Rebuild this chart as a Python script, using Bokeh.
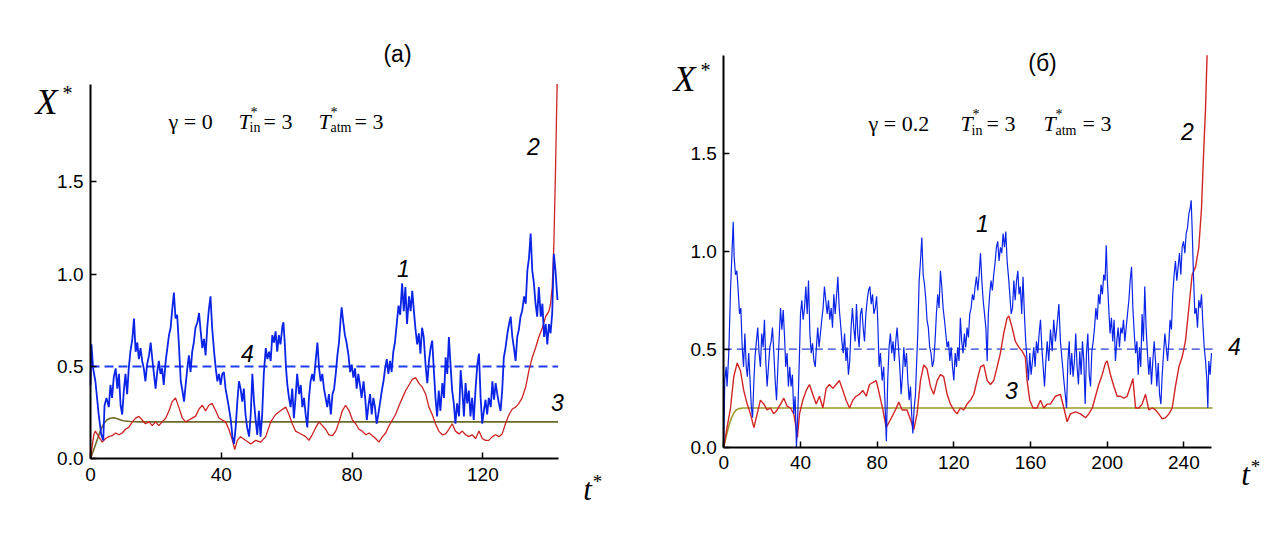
from bokeh.plotting import figure
from bokeh.layouts import row
from bokeh.models import Range1d, Label, FixedTicker, PrintfTickFormatter
from bokeh.embed import file_html
from bokeh.resources import INLINE

# ---------------- panel (a) data ----------------
a_t1 = [0.0, 0.3, 0.8, 1.5, 2.5, 3.3, 3.9, 4.3, 4.9, 5.6, 6.1, 6.6, 7.1, 7.7, 8.2, 8.7, 9.2, 9.7, 10.2, 10.7,
        11.2, 11.7, 12.2, 12.8, 13.3, 13.8, 14.3, 14.8, 15.3, 15.8, 16.3, 16.8, 17.3, 17.9, 18.4, 18.9, 19.4, 19.9,
        20.4, 20.9, 21.4, 21.9, 22.4, 23.0, 23.5, 24.0, 24.5, 25.0, 25.5, 26.0, 26.5, 27.0, 27.6, 28.1, 28.6, 29.1,
        29.6, 30.1, 30.6, 31.1, 31.6, 32.1, 32.7, 33.2, 33.7, 34.2, 34.7, 35.2, 35.7, 36.2, 36.7, 37.2, 37.8, 38.3,
        38.8, 39.3, 39.8, 40.3, 40.8, 41.3, 41.8, 42.3, 42.9, 43.4, 43.9, 44.4, 44.9, 45.4, 45.9,
        46.4, 46.9, 47.4, 47.9, 48.5, 49.0, 49.5, 50.0, 50.5, 51.0, 51.5, 52.0, 52.5, 53.0, 53.6, 54.1, 54.6, 55.1,
        55.6, 56.1, 56.6, 57.1, 57.6, 58.1, 58.7, 59.0, 59.4, 59.8, 60.2, 60.7, 61.2, 61.7, 62.2, 62.7, 63.2, 63.8,
        64.3, 64.8, 65.3, 65.8, 66.3, 66.8, 67.3, 67.8, 68.3, 68.9, 69.4, 69.9, 70.4, 70.9, 71.4, 71.9, 72.4, 72.9,
        73.5, 74.0, 74.5, 75.0, 75.5, 76.0, 76.5, 76.8, 77.3, 77.8, 78.3, 78.9, 79.4, 79.9, 80.4, 80.9, 81.4, 81.9,
        82.4, 82.9, 83.5, 84.0, 84.5, 85.0, 85.5, 86.0, 86.5, 87.0, 87.5, 88.0, 88.6, 89.1, 89.6, 90.1, 90.6, 91.1,
        91.6, 92.1, 92.6, 93.1, 93.7, 94.2, 94.7,
        95.3, 95.8, 96.3, 96.8, 97.4, 97.9, 98.4, 98.9, 99.4, 99.9, 100.4, 100.9, 101.4, 101.9, 102.5, 103.0, 103.5,
        104.0, 104.5, 105.0, 105.5, 106.0, 106.5, 107.0, 107.6, 108.1, 108.6, 109.1, 109.6, 110.1, 110.6, 111.1,
        111.6, 112.1, 112.7, 113.2, 113.7, 114.2, 114.7, 115.2, 115.7, 116.2, 116.7, 117.2, 117.8, 118.3, 118.8,
        119.3, 119.8, 120.3, 120.8, 121.3, 121.8, 122.4, 122.9, 123.4, 123.9, 124.4, 124.9, 125.4, 125.9, 126.4,
        126.9, 127.5, 128.0, 128.5, 129.0, 129.5, 130.0, 130.5, 131.0, 131.5, 132.0, 132.6, 133.1, 133.6, 134.1,
        134.6, 135.1, 135.6, 136.1, 136.6, 137.1, 137.7, 138.2, 138.7, 139.2, 139.7, 140.2, 140.7, 141.2, 141.7,
        142.2, 142.8]
a_x1 = [0.40, 0.62, 0.49, 0.42, 0.24, 0.13, 0.10, 0.29, 0.33, 0.28, 0.40, 0.33, 0.44, 0.49, 0.38, 0.46, 0.29, 0.24, 0.37, 0.46,
        0.35, 0.49, 0.58, 0.65, 0.76, 0.58, 0.63, 0.54, 0.60, 0.53, 0.49, 0.42, 0.51, 0.56, 0.63, 0.54, 0.46, 0.38,
        0.47, 0.53, 0.46, 0.49, 0.40, 0.53, 0.60, 0.67, 0.71, 0.81, 0.90, 0.76, 0.78, 0.63, 0.42, 0.37, 0.31, 0.40,
        0.49, 0.56, 0.47, 0.58, 0.63, 0.71, 0.74, 0.79, 0.69, 0.60, 0.65, 0.56, 0.71, 0.81, 0.88, 0.71, 0.58, 0.49,
        0.42, 0.46, 0.40, 0.46, 0.47, 0.38, 0.33, 0.28, 0.21, 0.12, 0.08, 0.17, 0.31, 0.42, 0.38,
        0.31, 0.38, 0.24, 0.17, 0.12, 0.24, 0.46, 0.31, 0.21, 0.13, 0.26, 0.12, 0.24, 0.46, 0.60, 0.54, 0.58, 0.53,
        0.67, 0.63, 0.69, 0.58, 0.67, 0.62, 0.72, 0.74, 0.63, 0.49, 0.40, 0.33, 0.28, 0.38, 0.22, 0.33, 0.46, 0.35,
        0.40, 0.28, 0.33, 0.24, 0.17, 0.33, 0.42, 0.46, 0.42, 0.54, 0.63, 0.49, 0.42, 0.46, 0.38, 0.33, 0.28, 0.35,
        0.24, 0.35, 0.38, 0.46, 0.56, 0.63, 0.76, 0.82, 0.74, 0.67, 0.63, 0.56, 0.47, 0.51, 0.44, 0.49, 0.38, 0.46,
        0.40, 0.33, 0.42, 0.33, 0.21, 0.29, 0.35, 0.24, 0.33, 0.28, 0.19, 0.24, 0.31, 0.37, 0.42, 0.49, 0.54, 0.46,
        0.53, 0.47, 0.58, 0.63, 0.74, 0.83, 0.78,
        0.95, 0.80, 0.93, 0.73, 0.88, 0.80, 0.91, 0.80, 0.70, 0.62, 0.68, 0.57, 0.71, 0.66, 0.50, 0.41, 0.53,
        0.60, 0.64, 0.48, 0.33, 0.23, 0.37, 0.26, 0.41, 0.33, 0.55, 0.46, 0.66, 0.51, 0.37, 0.30,
        0.19, 0.30, 0.23, 0.48, 0.37, 0.23, 0.41, 0.30, 0.37, 0.23, 0.33, 0.21, 0.39, 0.51, 0.57,
        0.33, 0.19, 0.26, 0.32, 0.24, 0.33, 0.28, 0.42, 0.32, 0.41, 0.35, 0.30, 0.26, 0.37, 0.55,
        0.60, 0.68, 0.73, 0.77, 0.66, 0.60, 0.53, 0.66, 0.70, 0.77, 0.80, 0.88, 0.84, 1.02, 1.09,
        1.22, 1.02, 0.95, 0.84, 0.77, 0.93, 0.77, 0.84, 0.66, 0.73, 0.62, 0.73, 0.68, 0.79, 1.11,
        1.02, 0.86]

a_t2 = [0.0, 1.0, 1.5, 2.5, 3.6, 4.6, 5.6, 6.6, 7.7, 8.7, 9.7, 10.7, 11.7, 12.8, 13.8, 14.8, 15.8, 16.8, 17.9, 18.9,
        19.9, 20.9, 21.9, 23.0, 24.0, 25.0, 26.0, 27.0, 28.1, 29.1, 30.1, 31.1, 32.1, 33.2, 34.2, 35.2, 36.2, 37.2,
        38.3, 39.3, 40.3, 41.3, 42.3, 43.4, 44.1, 44.9, 45.9, 47.4, 49.0, 50.5, 52.0, 53.6, 55.1, 56.6, 58.1, 59.7,
        60.7, 61.7, 62.7, 63.8, 64.8, 65.8, 66.8, 67.8, 68.9, 69.9, 70.9, 71.9, 72.9, 74.0, 75.0, 76.0, 77.0, 78.0,
        79.1, 80.1, 81.1, 82.1, 83.1, 84.2, 85.2, 86.2, 87.2, 88.2, 89.3, 90.3, 91.3, 92.3, 93.3, 94.4, 95.4, 96.4,
        97.4, 98.4, 99.4, 100.4, 101.4, 102.5, 103.5, 104.5, 105.5, 106.5, 107.6, 108.6, 109.6, 110.6, 111.6, 112.7,
        113.7, 114.7, 115.7, 116.7, 117.8, 118.8, 119.8, 120.8, 121.8, 122.9, 123.9, 124.9, 125.9, 126.9, 128.0,
        129.0, 130.0, 131.0, 132.0, 133.1, 134.1, 135.1, 136.1, 137.1, 138.2, 139.2, 140.2, 140.7, 141.2, 141.7,
        142.2, 142.7]
a_x2 = [0.0, 0.13, 0.15, 0.12, 0.09, 0.11, 0.12, 0.125, 0.14, 0.13, 0.14, 0.16, 0.17, 0.20, 0.22, 0.23, 0.21, 0.19, 0.20, 0.18,
        0.20, 0.18, 0.20, 0.22, 0.26, 0.31, 0.33, 0.28, 0.22, 0.20, 0.21, 0.22, 0.23, 0.27, 0.29, 0.26, 0.29, 0.30,
        0.26, 0.22, 0.21, 0.20, 0.16, 0.10, 0.05, 0.10, 0.12, 0.10, 0.08, 0.10, 0.09, 0.12, 0.20, 0.24, 0.26, 0.28,
        0.24, 0.19, 0.15, 0.14, 0.13, 0.12, 0.10, 0.13, 0.17, 0.20, 0.18, 0.16, 0.13, 0.125, 0.15, 0.20, 0.26, 0.29,
        0.26, 0.21, 0.19, 0.16, 0.15, 0.13, 0.14, 0.125, 0.11, 0.09, 0.12, 0.14, 0.18, 0.21, 0.24, 0.29, 0.33, 0.37,
        0.40, 0.43, 0.44, 0.41, 0.39, 0.35, 0.28, 0.24, 0.19, 0.15, 0.13, 0.135, 0.16, 0.19, 0.15, 0.135,
        0.15, 0.13, 0.12, 0.13, 0.11, 0.15, 0.11, 0.10, 0.10, 0.12, 0.13, 0.12, 0.135, 0.19, 0.24,
        0.27, 0.28, 0.30, 0.33, 0.39, 0.48, 0.55, 0.60, 0.66, 0.71, 0.77, 0.80, 0.84, 0.93, 1.16,
        1.56, 2.03]

a_t3 = [0, 1, 2, 3, 4, 5, 6, 7, 8, 9, 10, 12, 15, 143]
a_x3 = [0.0, 0.05, 0.10, 0.15, 0.19, 0.21, 0.22, 0.222, 0.218, 0.212, 0.206, 0.202, 0.20, 0.20]

a_t4 = [0, 143]
a_x4 = [0.5, 0.5]

a_xticks = [0, 40, 80, 120]
yticks = [0.0, 0.5, 1.0, 1.5]

# ---------------- panel (б) data ----------------
b_t1 = [0.0, 0.5, 1.2, 1.7, 2.6, 3.5, 4.3, 4.9, 5.4, 6.1, 6.8, 7.5, 8.2, 8.9, 9.6, 10.3, 11.0, 11.7, 12.3, 13.0,
        13.7, 14.4, 15.0, 15.7, 16.3, 17.0, 17.7, 18.4, 19.1, 19.8, 20.5, 21.2, 21.9, 22.6, 23.3, 24.0, 24.7, 25.4,
        26.1, 26.8, 27.5, 28.2, 28.9, 29.6, 30.3, 31.0, 31.7, 32.3, 33.0, 33.7, 34.4, 35.1, 35.8, 36.5, 37.2, 37.9,
        38.6, 39.3, 40.0, 40.7, 41.4, 42.1, 42.8, 43.5, 44.2, 44.9, 45.6, 46.3, 47.0, 47.7, 48.3, 49.0, 49.7, 50.4,
        51.1, 51.8, 52.5, 53.2, 53.9, 54.6, 55.3, 56.0, 56.7, 57.4, 58.1, 58.8, 59.5, 60.2, 60.9, 61.6, 62.3, 63.0,
        63.7, 64.3, 65.0, 65.7, 66.4, 67.1, 67.8, 68.5, 69.2, 69.9, 70.6, 71.3, 72.0, 72.7, 73.4, 74.1, 74.8, 75.5,
        76.2, 76.9, 77.6, 78.3, 79.0, 79.7, 80.3, 81.0, 81.7, 82.6, 83.4, 84.3, 84.8, 85.5, 86.2, 86.9, 87.6, 88.3,
        89.0, 89.7, 90.4, 91.1, 91.8, 92.5, 93.2, 93.9, 94.6, 95.3, 96.0, 96.7, 97.4, 98.0, 98.6, 99.3, 100.0,
        100.5, 101.2, 101.9, 102.6, 103.3, 104.0, 104.7, 105.4, 106.0, 106.7, 107.4, 108.1, 108.8, 109.5, 110.2,
        110.9, 111.6, 112.3, 113.0, 113.7, 114.4, 115.1, 115.8, 116.5, 117.2, 117.9, 118.6, 119.3, 120.0, 120.7,
        121.4, 122.0, 122.7, 123.4, 124.1, 124.8, 125.5, 126.2, 126.9, 127.6, 128.3, 129.0, 129.7, 130.4, 131.1,
        131.8, 132.5, 133.2, 133.9, 134.6, 135.3, 136.0, 136.7, 137.4, 138.0, 138.7, 139.4, 140.1, 140.8, 141.5,
        142.2, 142.9, 143.6, 144.3, 145.0, 145.7, 146.4, 147.1, 147.8, 148.5, 149.2, 149.9, 150.6, 151.3, 152.0,
        152.7, 153.4, 154.0, 154.7, 155.4, 156.1, 156.8, 157.5, 158.2, 158.9, 159.6, 160.3, 161.0, 161.7, 162.4,
        163.1, 163.8, 164.5, 165.2, 165.9, 166.6, 167.3, 168.0, 168.7, 169.5, 170.4, 171.3, 172.1, 173.0, 173.9,
        174.8, 175.6, 176.5, 177.4, 178.2, 178.8, 179.5, 180.2, 180.8, 181.5, 182.2, 182.9, 183.6, 184.3, 185.0,
        185.7, 186.4, 187.1, 187.8, 188.5, 189.2, 189.9, 190.6, 191.3, 192.0, 192.7, 193.4, 194.1, 194.8, 195.5,
        196.2, 196.8, 197.5, 198.2, 198.9, 199.5, 200.1, 200.8, 201.5, 202.2, 202.9, 203.6, 204.3, 205.0, 205.7,
        206.4, 207.1, 207.8, 208.5, 209.2, 209.9, 210.6, 211.3, 212.0, 212.7, 213.4, 214.1, 214.8, 215.5, 216.2,
        216.8, 217.5, 218.2, 218.9, 219.6, 220.3, 221.0, 221.7, 222.4, 223.1, 223.8, 224.5, 225.2, 225.9, 226.6,
        227.3, 228.0, 228.7, 229.4, 230.1, 230.8, 231.5, 232.2, 232.8, 233.5, 234.2, 234.9, 235.6, 236.3, 237.0,
        237.7, 238.4, 239.1, 239.8, 240.5, 241.2, 241.9, 242.6, 243.3, 243.8, 244.3, 245.0, 245.7, 246.4, 247.1,
        247.8, 248.5, 249.2, 249.9, 250.6, 251.3, 252.0, 252.5, 253.0, 253.7, 254.4]
b_x1 = [0.02, 0.34, 0.41, 0.31, 0.48, 0.80, 1.00, 1.15, 0.97, 0.88, 0.90, 0.80, 0.68, 0.71, 0.51, 0.41, 0.58, 0.41, 0.36, 0.48,
        0.34, 0.20, 0.15, 0.34, 0.46, 0.54, 0.61, 0.48, 0.41, 0.58, 0.51, 0.65, 0.44, 0.31, 0.41, 0.51, 0.54, 0.61,
        0.48, 0.34, 0.24, 0.41, 0.56, 0.71, 0.60, 0.70, 0.56, 0.41, 0.48, 0.31, 0.41, 0.31, 0.37, 0.17, 0.26, 0.0,
        0.17, 0.41, 0.68, 0.75, 0.65, 0.71, 0.82, 0.68, 0.85, 0.58, 0.48, 0.53, 0.44, 0.41, 0.51, 0.61, 0.51, 0.58,
        0.65, 0.71, 0.82, 0.75, 0.68, 0.75, 0.65, 0.71, 0.61, 0.78, 0.68, 0.77, 0.87, 0.71, 0.63, 0.54, 0.48, 0.58,
        0.44, 0.51, 0.37, 0.44, 0.61, 0.71, 0.61, 0.54, 0.73, 0.58, 0.51, 0.68, 0.71, 0.61, 0.54, 0.68, 0.75, 0.80,
        0.82, 0.73, 0.78, 0.68, 0.71, 0.77, 0.65, 0.41, 0.48, 0.34, 0.41, 0.17, 0.03, 0.34, 0.51, 0.58, 0.48, 0.54,
        0.44, 0.54, 0.61, 0.51, 0.41, 0.27, 0.37, 0.51, 0.41, 0.48, 0.34, 0.24, 0.31, 0.17, 0.07, 0.20, 0.27,
        0.41, 0.58, 0.85, 0.95, 1.07, 0.88, 0.83, 0.75, 0.65, 0.61, 0.51, 0.48, 0.41, 0.44, 0.54,
        0.68, 0.78, 0.71, 0.90, 0.82, 0.71, 0.65, 0.58, 0.51, 0.54, 0.44, 0.51, 0.41, 0.34, 0.48,
        0.41, 0.51, 0.44, 0.66, 0.54, 0.48, 0.58, 0.51, 0.61, 0.56, 0.68, 0.71, 0.78, 0.75, 0.82,
        0.87, 0.80, 0.88, 0.99, 0.85, 0.75, 0.68, 0.61, 0.44, 0.68, 0.78, 0.85, 0.80, 0.88, 0.94,
        1.02, 1.05, 0.95, 1.02, 0.99, 1.09, 1.02, 1.10, 0.95, 0.87, 0.78, 0.68, 0.71, 0.85, 0.75,
        0.85, 0.90, 0.78, 0.82, 0.68, 0.87, 0.68, 0.54, 0.44, 0.34, 0.48, 0.37, 0.44, 0.51, 0.41,
        0.54, 0.48, 0.58, 0.65, 0.51, 0.41, 0.31, 0.44, 0.54, 0.44, 0.60, 0.49, 0.65, 0.54, 0.63,
        0.73, 0.54, 0.44, 0.34, 0.26, 0.20, 0.44, 0.54, 0.37, 0.48, 0.36, 0.44, 0.58, 0.41, 0.32,
        0.49, 0.37, 0.54, 0.44, 0.22, 0.48, 0.58, 0.37, 0.31, 0.49, 0.54, 0.61, 0.71, 0.65, 0.78,
        0.73, 0.83, 0.78, 0.88, 0.85, 1.03, 0.85, 0.71, 0.58, 0.66, 0.54, 0.65, 0.44, 0.54, 0.61,
        0.51, 0.61, 0.58, 0.65, 0.54, 0.61, 0.68, 0.75, 0.85, 0.92, 0.71, 0.58, 0.48, 0.54, 0.37,
        0.51, 0.41, 0.68, 0.54, 0.82, 0.61, 0.48, 0.37, 0.46, 0.32, 0.44, 0.54, 0.44, 0.31, 0.43,
        0.27, 0.22, 0.37, 0.48, 0.58, 0.51, 0.44, 0.54, 0.65, 0.60, 0.78, 0.88, 0.95, 0.85, 0.92,
        0.99, 0.88, 1.02, 1.05, 0.99, 1.09, 1.12, 1.19, 1.22, 1.26, 1.12, 0.88, 0.68, 0.71, 0.61,
        0.75, 0.71, 0.78, 0.63, 0.51, 0.44, 0.34, 0.20, 0.44, 0.37, 0.48]

b_t2 = [0.0, 1.7, 3.5, 5.2, 7.0, 8.7, 10.4, 12.2, 13.9, 15.7, 17.4, 19.1, 20.9, 22.6, 24.3, 26.1, 27.8, 29.6, 31.3,
        33.0, 34.8, 36.5, 37.7, 38.4, 39.5, 41.2, 43.0, 44.7, 46.4, 48.2, 49.9, 51.7, 53.4, 55.1, 56.9, 58.6, 60.3,
        62.1, 63.8, 65.6, 67.3, 69.0, 70.8, 72.5, 74.3, 76.0, 77.7, 79.5, 81.2, 83.0, 84.7, 86.9, 89.5, 91.3, 93.0,
        95.6, 97.4, 99.1, 100.8, 102.6, 104.3, 106.0, 107.8, 109.5, 111.3, 113.0, 114.7, 116.5, 118.2, 120.0, 121.7,
        123.4, 125.2, 126.9, 128.7, 130.4, 132.1, 133.9, 135.6, 137.4, 139.1, 140.8, 142.6, 144.3, 146.0, 147.8,
        148.7, 150.4, 152.1, 153.9, 155.6, 157.3, 158.2, 159.6, 161.3, 163.4, 165.2, 166.9, 168.7, 170.4, 173.0,
        175.6, 177.4, 179.1, 180.8, 183.5, 186.1, 188.7, 190.4, 192.2, 193.9, 195.6, 197.4, 199.1, 200.0, 201.7,
        203.5, 205.2, 206.9, 208.7, 210.4, 212.1, 213.4, 214.8, 216.5, 218.2, 220.0, 221.7, 223.5, 225.2, 226.9,
        228.7, 230.4, 232.2, 233.9, 235.6, 237.4, 239.1, 240.8, 242.6, 244.3, 246.1, 247.8, 249.2, 250.2, 251.3,
        252.1]
b_x2 = [0.0, 0.10, 0.20, 0.36, 0.43, 0.39, 0.29, 0.22, 0.17, 0.10, 0.17, 0.24, 0.22, 0.19, 0.20, 0.17, 0.19, 0.22, 0.25,
        0.21, 0.20, 0.17, 0.10, 0.05, 0.17, 0.24, 0.29, 0.32, 0.27, 0.22, 0.26, 0.20, 0.30, 0.32, 0.30, 0.32, 0.34,
        0.29, 0.24, 0.20, 0.24, 0.26, 0.27, 0.29, 0.26, 0.32, 0.33, 0.34, 0.27, 0.19, 0.10, 0.14, 0.19, 0.23, 0.19,
        0.19, 0.14, 0.09, 0.17, 0.34, 0.42, 0.40, 0.31, 0.27, 0.34, 0.37, 0.36, 0.27, 0.22, 0.19, 0.17,
        0.20, 0.19, 0.22, 0.24, 0.27, 0.34, 0.41, 0.42, 0.34, 0.32, 0.34, 0.41, 0.48, 0.58, 0.66,
        0.67, 0.61, 0.54, 0.51, 0.49, 0.46, 0.34, 0.24, 0.20, 0.20, 0.24, 0.20, 0.22, 0.22, 0.26,
        0.27, 0.20, 0.13, 0.17, 0.18, 0.17, 0.15, 0.17, 0.20, 0.26, 0.32, 0.37, 0.43, 0.44, 0.37,
        0.31, 0.26, 0.26, 0.25, 0.26, 0.31, 0.35, 0.20, 0.20, 0.22, 0.27, 0.19, 0.20, 0.19, 0.17,
        0.145, 0.15, 0.17, 0.20, 0.31, 0.41, 0.46, 0.54, 0.71, 0.88, 0.92, 1.02, 1.22, 1.48, 1.73,
        2.0]

b_t3 = [0, 1, 2, 3, 4, 5, 6, 7, 8, 10, 12, 255]
b_x3 = [0.0, 0.045, 0.085, 0.12, 0.15, 0.17, 0.185, 0.193, 0.197, 0.20, 0.20, 0.20]

b_t4 = [0, 255]
b_x4 = [0.5, 0.5]

b_xticks = [0, 40, 80, 120, 160, 200, 240]

SANS = "Liberation Sans"
SERIF = "Liberation Serif"

W, H = 632, 538


def make_panel(xr, yr, xbounds, ybounds, xticks):
    # the frame covers the whole canvas; the axes sit at t=0 and X=0
    p = figure(width=W, height=H, output_backend="svg", toolbar_location=None,
               x_range=Range1d(*xr), y_range=Range1d(*yr), min_border=0)
    p.outline_line_color = None
    p.xgrid.visible = False
    p.ygrid.visible = False
    p.background_fill_color = "white"
    p.border_fill_color = "white"
    for ax in (p.xaxis[0], p.yaxis[0]):
        ax.fixed_location = 0
        ax.axis_line_width = 2
        ax.axis_line_color = "black"
        ax.major_tick_in = 6
        ax.major_tick_out = 0
        ax.major_tick_line_width = 1.5
        ax.minor_tick_line_color = None
        ax.major_label_text_font = SANS
        ax.major_label_text_font_size = "19px"
        ax.major_label_text_color = "black"
    p.xaxis[0].bounds = xbounds
    p.yaxis[0].bounds = ybounds
    p.xaxis[0].ticker = FixedTicker(ticks=xticks)
    p.yaxis[0].ticker = FixedTicker(ticks=yticks)
    p.yaxis[0].formatter = PrintfTickFormatter(format="%.1f")
    p.xaxis[0].major_label_standoff = 9
    p.yaxis[0].major_label_standoff = 7
    return p


def lab(p, x, y, text, font=SANS, size="20px", style="normal", align="left", base="alphabetic"):
    p.add_layout(Label(x=x, y=y, text=text, text_font=font, text_font_size=size,
                       text_font_style=style, text_align=align, text_baseline=base,
                       text_color="black"))


# ---------- panel (a) ----------
# page pixel -> data: t=(px-90)/3.27, v=(458.3-py)/184.6
def pa_xy(px, py):
    return (px - 90) / 3.27, (458.3 - py) / 184.6

pa = make_panel((pa_xy(0, 0)[0], pa_xy(W, 0)[0]), (pa_xy(0, H)[1], pa_xy(0, 0)[1]),
                (0, 143), (0, 2.03), a_xticks)
pa.line(a_t4, a_x4, line_color="#1f3df0", line_width=2, line_dash="9 5")
pa.line(a_t3, a_x3, line_color="#6e6a2a", line_width=1.6)
pa.line(a_t2, a_x2, line_color="#cc2222", line_width=1.3)
pa.line(a_t1, a_x1, line_color="#0a24e8", line_width=1.8)

lab(pa, *pa_xy(397, 53), "(a)", size="23px", align="center", base="middle")
lab(pa, *pa_xy(46, 101), "X", font=SERIF, size="36px", style="italic", align="center", base="middle")
lab(pa, *pa_xy(67, 92), "*", font=SERIF, size="20px", align="center", base="middle")
lab(pa, *pa_xy(168, 121), "γ = 0", font=SERIF, size="22px")
lab(pa, *pa_xy(238, 121), "T", font=SERIF, size="22px", style="italic")
lab(pa, *pa_xy(250, 112), "*", font=SERIF, size="14px")
lab(pa, *pa_xy(249, 127), "in", font=SERIF, size="14px")
lab(pa, *pa_xy(263, 121), "= 3", font=SERIF, size="22px")
lab(pa, *pa_xy(318, 121), "T", font=SERIF, size="22px", style="italic")
lab(pa, *pa_xy(330, 112), "*", font=SERIF, size="14px")
lab(pa, *pa_xy(330, 127), "atm", font=SERIF, size="14px")
lab(pa, *pa_xy(354, 121), "= 3", font=SERIF, size="22px")
lab(pa, *pa_xy(533, 146), "2", size="23px", style="italic", align="center", base="middle")
lab(pa, *pa_xy(403, 268), "1", size="23px", style="italic", align="center", base="middle")
lab(pa, *pa_xy(247, 353), "4", size="23px", style="italic", align="center", base="middle")
lab(pa, *pa_xy(557, 402), "3", size="23px", style="italic", align="center", base="middle")
lab(pa, *pa_xy(587, 489), "t", font=SERIF, size="31px", style="italic", align="center", base="middle")
lab(pa, *pa_xy(597, 481), "*", font=SERIF, size="19px", align="center", base="middle")

# ---------- panel (б) ----------
# page pixel -> data: t=(px-723.3)/1.917, v=(446.7-py)/196
def pb_xy(px, py):
    return (px - 723.3) / 1.917, (446.7 - py) / 196.0

pb = make_panel((pb_xy(W, 0)[0], pb_xy(2 * W, 0)[0]), (pb_xy(0, H)[1], pb_xy(0, 0)[1]),
                (0, 254.6), (0, 2.0), b_xticks)
pb.line(b_t4, b_x4, line_color="#2a3fd0", line_width=1.2, line_dash="8 5")
pb.line(b_t3, b_x3, line_color="#9c9a2c", line_width=1.6)
pb.line(b_t2, b_x2, line_color="#d22424", line_width=1.4)
pb.line(b_t1, b_x1, line_color="#0a24e8", line_width=1.2)

lab(pb, *pb_xy(1042, 62), "(б)", size="23px", align="center", base="middle")
lab(pb, *pb_xy(684, 78), "X", font=SERIF, size="36px", style="italic", align="center", base="middle")
lab(pb, *pb_xy(705, 69), "*", font=SERIF, size="20px", align="center", base="middle")
lab(pb, *pb_xy(868, 123), "γ = 0.2", font=SERIF, size="22px")
lab(pb, *pb_xy(960, 123), "T", font=SERIF, size="22px", style="italic")
lab(pb, *pb_xy(972, 114), "*", font=SERIF, size="14px")
lab(pb, *pb_xy(971, 130), "in", font=SERIF, size="14px")
lab(pb, *pb_xy(986, 123), "= 3", font=SERIF, size="22px")
lab(pb, *pb_xy(1043, 123), "T", font=SERIF, size="22px", style="italic")
lab(pb, *pb_xy(1055, 114), "*", font=SERIF, size="14px")
lab(pb, *pb_xy(1055, 130), "atm", font=SERIF, size="14px")
lab(pb, *pb_xy(1082, 123), "= 3", font=SERIF, size="22px")
lab(pb, *pb_xy(1187, 131), "2", size="23px", style="italic", align="center", base="middle")
lab(pb, *pb_xy(982, 223), "1", size="23px", style="italic", align="center", base="middle")
lab(pb, *pb_xy(1234, 346), "4", size="23px", style="italic", align="center", base="middle")
lab(pb, *pb_xy(1011, 390), "3", size="23px", style="italic", align="center", base="middle")
lab(pb, *pb_xy(1245, 474), "t", font=SERIF, size="31px", style="italic", align="center", base="middle")
lab(pb, *pb_xy(1255, 466), "*", font=SERIF, size="19px", align="center", base="middle")

layout = row(pa, pb)
open("out.html", "w").write(file_html(layout, INLINE))
